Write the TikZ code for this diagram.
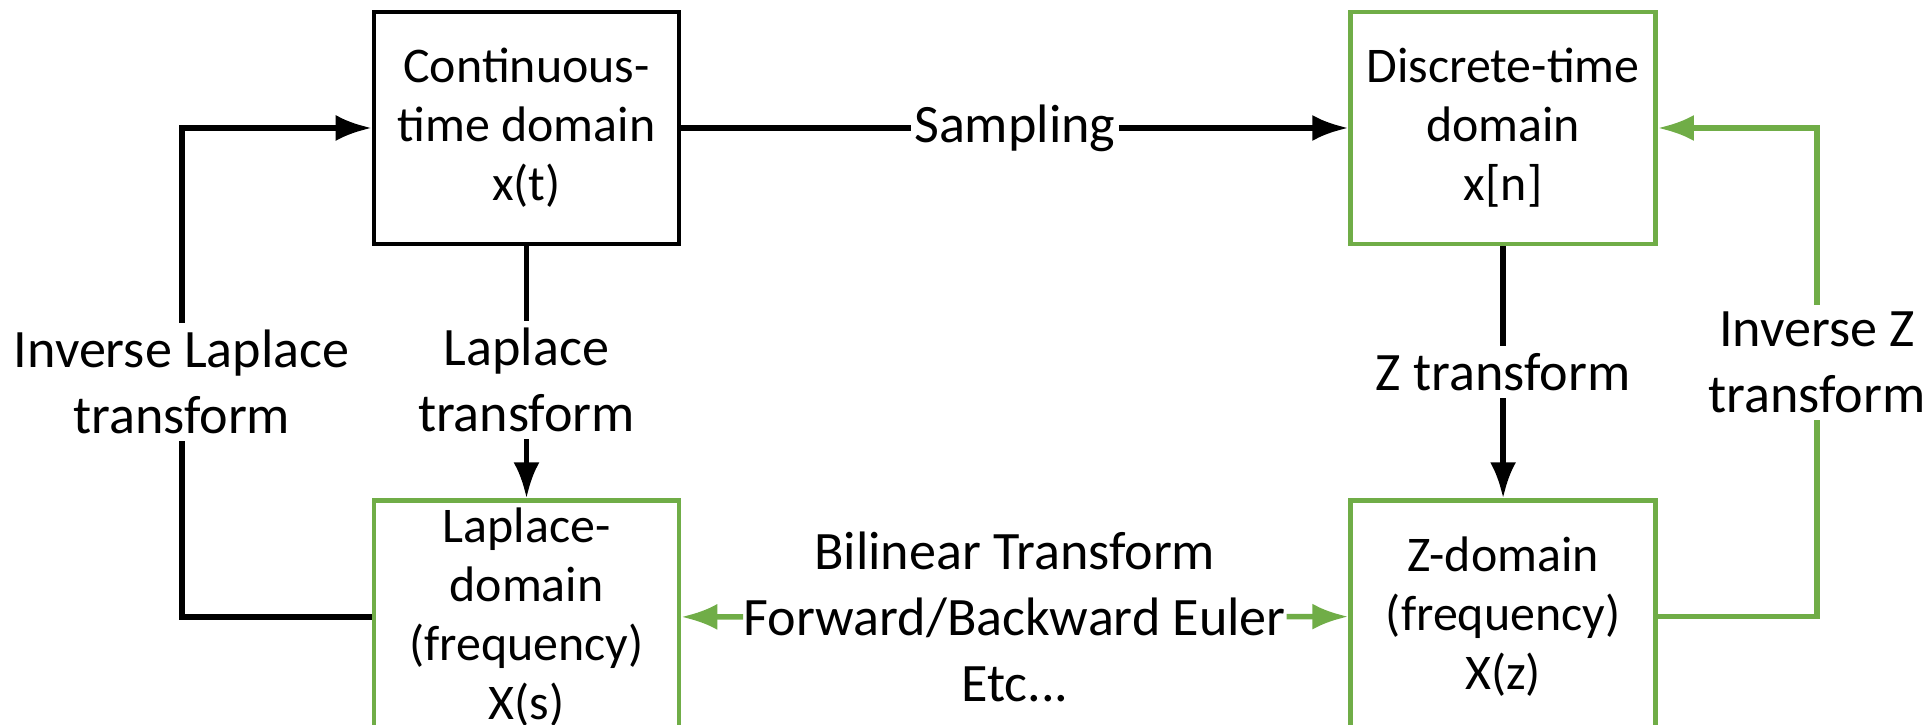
\documentclass[tikz,border=0pt]{standalone}
\usepackage{fontspec}
\setmainfont{Carlito}
\usetikzlibrary{arrows.meta,positioning,calc}
\definecolor{ink}{HTML}{000000}
\definecolor{leaf}{HTML}{70AD47}
\tikzset{
  domain diagram/.style={
    >={Latex[length=3.6mm,width=2.6mm]},
    line join=miter
  },
  domainbox/.style={
    draw=ink,
    line width=1.3pt,
    align=center,
    minimum width=3.05cm,
    minimum height=2.32cm,
    inner sep=2pt,
    font=\fontsize{14.2}{16.8}\selectfont
  },
  greenbox/.style={domainbox, draw=leaf},
  linelabel/.style={
    fill=white,
    align=center,
    inner xsep=1pt,
    inner ysep=2pt,
    font=\fontsize{15.4}{18.8}\selectfont
  },
  flowarrow/.style={->, draw=ink, line width=1.6pt},
  greenarrow/.style={->, draw=leaf, line width=1.6pt}
}
\begin{document}
\begin{tikzpicture}[domain diagram, node distance=2.52cm and 6.67cm]
\useasboundingbox (0,0) rectangle (19.26,7.25);
\node[domainbox] (cont) at (5.265,5.97) {Continuous-\\time domain\\x(t)};
\node[greenbox, right=of cont] (disc) {Discrete-time\\domain\\x[n]};
\node[greenbox, below=of cont] (lap) {Laplace-\\domain\\(frequency)\\X(s)};
\node[greenbox, below=of disc] (zdom) {Z-domain\\(frequency)\\X(z)};
\coordinate[left=1.9cm of lap.west] (invl);
\coordinate[right=1.59cm of zdom.east] (invz);
\draw[flowarrow] (cont) -- node[linelabel] {Sampling} (disc);
\draw[flowarrow] (cont) -- node[linelabel, pos=0.53] {Laplace\\transform} (lap);
\draw[flowarrow] (disc) -- node[linelabel] {Z transform} (zdom);
\draw[flowarrow] (lap.west) -- (invl) |- node[linelabel, pos=0.24] {Inverse Laplace\\transform} (cont.west);
\draw[greenarrow] (zdom.east) -- (invz) |- node[linelabel, pos=0.26] {Inverse Z\\transform} (disc.east);
\node[linelabel, inner sep=0pt] (bil) at ($(lap.east)!0.5!(zdom.west)$) {Bilinear Transform\\Forward/Backward Euler\\Etc...};
\draw[greenarrow] (bil) -- (lap);
\draw[greenarrow] (bil) -- (zdom);
\end{tikzpicture}
\end{document}
